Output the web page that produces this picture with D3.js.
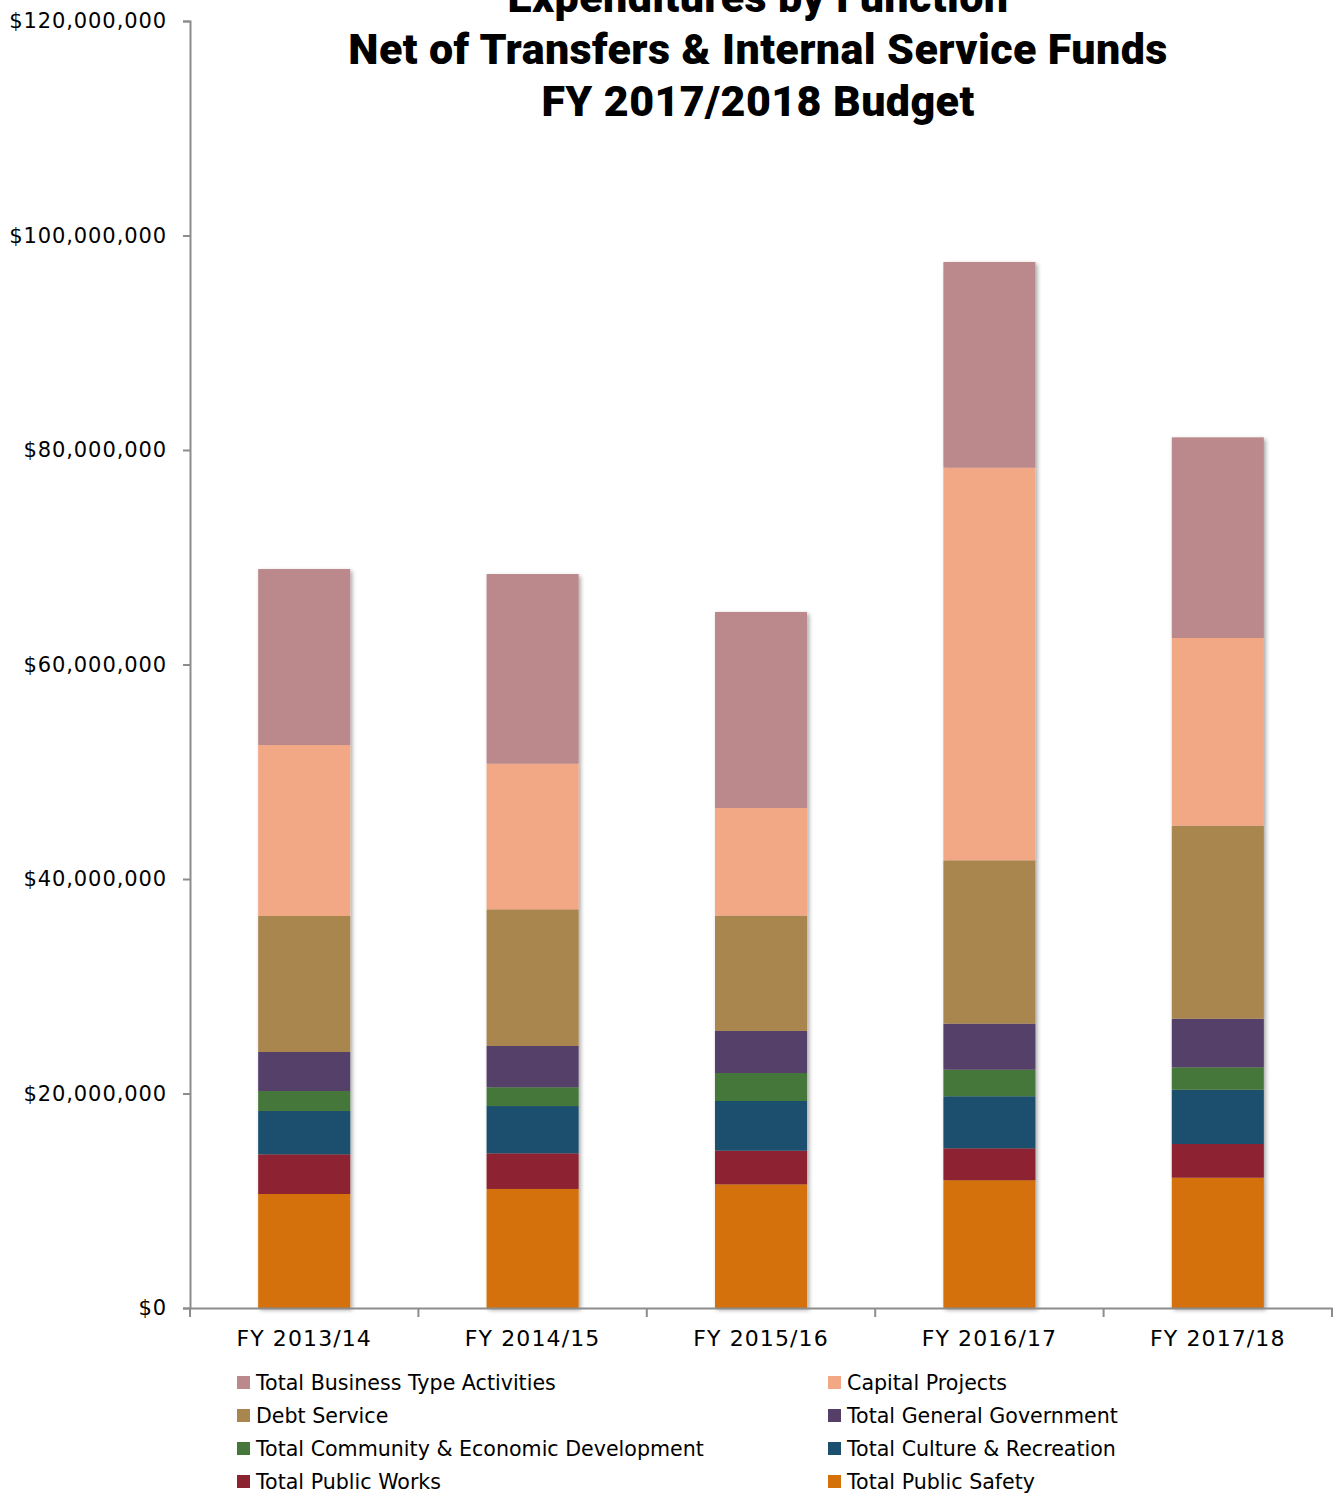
<!DOCTYPE html>
<html>
<head>
<meta charset="utf-8">
<script src="https://cdn.jsdelivr.net/npm/d3@7"></script>
<style>
  html, body { margin: 0; padding: 0; background: #fff; }
  svg { display: block; }
  .lbl { font-family: "DejaVu Sans", "Noto Sans", sans-serif; fill: #000; }
  .title { font-family: "Roboto", "Liberation Sans", sans-serif; font-weight: 900; fill: #000; }
</style>
</head>
<body>
<svg id="chart" width="1335" height="1495"></svg>
<script>
// Fiscal years shown on the x axis
const years = ["FY 2013/14", "FY 2014/15", "FY 2015/16", "FY 2016/17", "FY 2017/18"];

// Expenditures by function, in millions of dollars (stacked bottom to top)
const publicSafety     = [10.63, 11.10, 11.53, 11.91, 12.15];
const publicWorks      = [3.70, 3.32, 3.14, 2.98, 3.14];
const cultureRec       = [4.04, 4.41, 4.63, 4.85, 5.06];
const communityEcon    = [1.86, 1.75, 2.61, 2.48, 2.09];
const generalGov       = [3.64, 3.85, 3.92, 4.29, 4.53];
const debtService      = [12.68, 12.74, 10.75, 15.23, 18.00];
const capitalProjects  = [15.94, 13.58, 10.04, 36.61, 17.50];
const businessType     = [16.41, 17.69, 18.28, 19.18, 18.71];

// Y axis tick values
const yTicks = [0, 20e6, 40e6, 60e6, 80e6, 100e6, 120e6];

const series = [
  { name: "Total Public Safety", values: publicSafety, color: "#d47108" },
  { name: "Total Public Works", values: publicWorks, color: "#8c2330" },
  { name: "Total Culture & Recreation", values: cultureRec, color: "#1a4f6e" },
  { name: "Total Community & Economic Development", values: communityEcon, color: "#45773a" },
  { name: "Total General Government", values: generalGov, color: "#553f69" },
  { name: "Debt Service", values: debtService, color: "#aa864f" },
  { name: "Capital Projects", values: capitalProjects, color: "#f2a884" },
  { name: "Total Business Type Activities", values: businessType, color: "#bb898b" }
];

// Legend order (two columns, read left-to-right)
const legendOrder = [
  "Total Business Type Activities", "Capital Projects",
  "Debt Service", "Total General Government",
  "Total Community & Economic Development", "Total Culture & Recreation",
  "Total Public Works", "Total Public Safety"
];

const svg = d3.select("#chart");
const plotL = 190, plotR = 1332, plotT = 21, plotB = 1308;

const rows = years.map((yr, i) => {
  const r = { year: yr };
  series.forEach(s => r[s.name] = s.values[i] * 1e6);
  return r;
});
const stacked = d3.stack().keys(series.map(s => s.name))(rows);

const x = d3.scaleBand().domain(years).range([plotL, plotR]).paddingInner(0).paddingOuter(0);
const barW = x.bandwidth() * 0.403;
const y = d3.scaleLinear().domain([0, 120e6]).range([plotB, plotT]);

// soft drop shadow under the bars
const defs = svg.append("defs");
const f = defs.append("filter").attr("id", "shadow").attr("x", "-20%").attr("y", "-5%").attr("width", "140%").attr("height", "110%");
f.append("feDropShadow").attr("dx", 2).attr("dy", 2).attr("stdDeviation", 2.2)
  .attr("flood-color", "#000").attr("flood-opacity", 0.35);

// Bars
const color = d3.scaleOrdinal().domain(series.map(s => s.name)).range(series.map(s => s.color));
const barsG = svg.append("g").attr("filter", "url(#shadow)");
stacked.forEach(layer => {
  barsG.append("g").attr("fill", color(layer.key))
    .selectAll("rect").data(layer).join("rect")
    .attr("x", d => x(d.data.year) + (x.bandwidth() - barW) / 2)
    .attr("width", barW)
    .attr("y", d => y(d[1]))
    .attr("height", d => y(d[0]) - y(d[1]));
});

// Y axis
const fmt = v => "$" + d3.format(",")(v);
const yAxis = svg.append("g").attr("transform", `translate(${plotL},0)`)
  .call(d3.axisLeft(y).tickValues(yTicks).tickFormat(fmt).tickSize(7).tickPadding(16));
yAxis.select(".domain").attr("stroke", "#8c8c8c").attr("stroke-width", 2);
yAxis.selectAll(".tick line").attr("stroke", "#8c8c8c").attr("stroke-width", 2);
yAxis.selectAll(".tick text").attr("class", "lbl").attr("font-size", 21).attr("font-family", null)
  .attr("letter-spacing", 0.9);

// X axis with tick marks at category boundaries
const xAxis = svg.append("g").attr("transform", `translate(0,${plotB})`)
  .call(d3.axisBottom(x).tickSize(0).tickPadding(22));
xAxis.select(".domain").attr("stroke", "#8c8c8c").attr("stroke-width", 2);
xAxis.selectAll(".tick text").attr("class", "lbl").attr("font-size", 22).attr("font-family", null)
  .attr("letter-spacing", 1.1);
const bounds = years.map(d => x(d)).concat([plotR]);
xAxis.selectAll("line.bound").data(bounds).join("line").attr("class", "bound")
  .attr("x1", d => d).attr("x2", d => d).attr("y1", 0).attr("y2", 9)
  .attr("stroke", "#8c8c8c").attr("stroke-width", 2);

// Title
const titleLines = ["Expenditures by Function", "Net of Transfers & Internal Service Funds", "FY 2017/2018 Budget"];
svg.append("g").selectAll("text").data(titleLines).join("text")
  .attr("class", "title")
  .attr("x", 758).attr("y", (d, i) => 12 + i * 52)
  .attr("text-anchor", "middle").attr("font-size", 43)
  .attr("letter-spacing", 0.4)
  .text(d => d);

// Legend
const legend = svg.append("g");
legendOrder.forEach((name, i) => {
  const col = i % 2, row = Math.floor(i / 2);
  const lx = col === 0 ? 237 : 828;
  const ly = 1383 + row * 33;
  legend.append("rect").attr("x", lx).attr("y", ly - 7).attr("width", 13).attr("height", 13)
    .attr("fill", color(name));
  legend.append("text").attr("class", "lbl").attr("x", lx + 19).attr("y", ly)
    .attr("dy", "0.35em").attr("font-size", 20.6).text(name);
});
</script>
</body>
</html>
